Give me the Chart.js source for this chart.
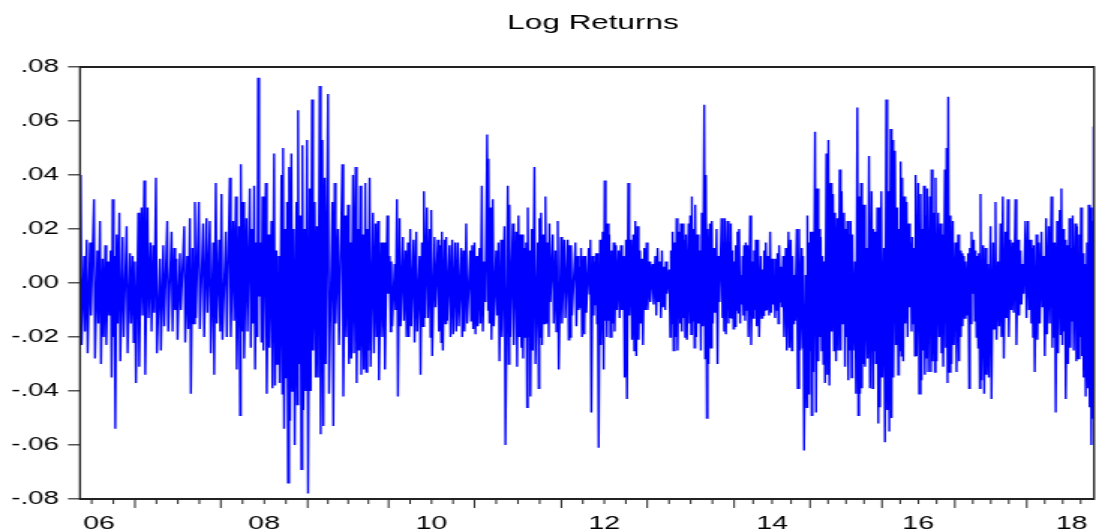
<!DOCTYPE html>
<html>
<head>
<meta charset="utf-8">
<title>Log Returns</title>
<script src="https://cdn.jsdelivr.net/npm/chart.js@4/dist/chart.umd.min.js"></script>
<style>
    html, body { margin: 0; padding: 0; background: #fff; overflow: hidden; }
    /* the original graph is a stretched export: draw narrow, widen to 1096px */
    canvas { display: block; transform: scaleX(1.4993); transform-origin: 0 0; }
</style>
</head>
<body>
<canvas id="returns-chart" width="731" height="531"></canvas>
<script>
// Trading-day number of each reading, with the highest and lowest return read around it
const obs = [
    2, 12, 20, 30, 42, 52, 60, 68, 76, 85,
    92, 98, 103, 110, 118, 128, 140, 150, 158, 165,
    175, 185, 193, 203, 212, 220, 228, 240, 250, 262,
    275, 283, 290, 300, 313, 322, 330, 338, 345, 357,
    370, 380, 390, 400, 408, 418, 425, 438, 450, 460,
    468, 478, 483, 490, 500, 510, 517, 523, 530, 535,
    542, 548, 558, 566, 575, 583, 590, 597, 605, 610,
    617, 622, 628, 635, 642, 650, 655, 662, 668, 675,
    682, 690, 697, 705, 712, 720, 728, 735, 745, 758,
    765, 775, 788, 797, 805, 812, 820, 828, 835, 842,
    850, 857, 863, 870, 880, 888, 895, 905, 913, 923,
    930, 935, 945, 952, 960, 970, 978, 985, 992, 1002,
    1010, 1020, 1027, 1033, 1042, 1050, 1055, 1065, 1075, 1082,
    1087, 1095, 1100, 1110, 1118, 1127, 1135, 1145, 1152, 1160,
    1172, 1178, 1185, 1192, 1200, 1207, 1215, 1223, 1227, 1233,
    1240, 1250, 1257, 1265, 1275, 1285, 1290, 1300, 1310, 1317,
    1323, 1328, 1334, 1340, 1345, 1350, 1357, 1365, 1375, 1380,
    1385, 1392, 1398, 1405, 1410, 1420, 1428, 1435, 1445, 1455,
    1465, 1470, 1475, 1488, 1495, 1500, 1505, 1512, 1518, 1528,
    1533, 1540, 1545, 1550, 1555, 1562, 1570, 1576, 1580, 1585,
    1590, 1597, 1603, 1610, 1618, 1625, 1633, 1640, 1647, 1655,
    1662, 1668, 1675, 1682, 1688, 1695, 1702, 1710, 1720, 1728,
    1735, 1742, 1748, 1755, 1760, 1770, 1775, 1780, 1786, 1792,
    1800, 1805, 1810, 1815, 1820, 1828, 1833, 1838, 1843, 1848,
    1855, 1862, 1868, 1875, 1880, 1885, 1892, 1898, 1905, 1912,
    1918, 1927, 1932, 1937, 1945, 1950, 1955, 1960, 1965, 1970,
    1975, 1980, 1985, 1990, 1995, 2000, 2005, 2013, 2020, 2025,
    2030, 2037, 2045, 2050, 2055, 2060, 2067, 2073, 2080, 2085,
    2090, 2095, 2100, 2105, 2112, 2120, 2128, 2135, 2140, 2145,
    2153, 2160, 2168, 2172, 2180, 2185, 2190, 2195, 2200, 2208,
    2215, 2220, 2225, 2230, 2235, 2242, 2248, 2255, 2262, 2268,
    2275, 2282, 2288, 2295, 2300, 2305, 2310, 2315, 2320, 2328,
    2335, 2340, 2346, 2350, 2355, 2363, 2370, 2378, 2383, 2388,
    2395, 2400, 2407, 2415, 2422, 2428, 2435, 2440, 2448, 2455,
    2460, 2465, 2470, 2476, 2483, 2490, 2495, 2500, 2505, 2510,
    2518, 2525, 2530, 2535, 2540, 2545, 2553, 2558, 2565, 2570,
    2578, 2585, 2590, 2598, 2603, 2608, 2615, 2622, 2630, 2638,
    2643, 2648, 2655, 2660, 2668, 2673, 2678, 2685, 2690, 2695,
    2700, 2705, 2713, 2720, 2727, 2735, 2743, 2750, 2758, 2765,
    2772, 2780, 2787, 2795, 2802, 2810, 2818, 2825, 2832, 2840,
    2848, 2855, 2860, 2865, 2873, 2880, 2888, 2895, 2902, 2910,
    2918, 2923, 2928, 2935, 2943, 2948, 2953, 2958, 2965, 2972,
    2978, 2982, 2990, 2995, 3002, 3007, 3012, 3018, 3025, 3030,
    3035, 3040, 3045
];

const highs = [
    .040, .010, .016, .015, .031, .012, .023, .009, .014, .008,
    .012, .031, .010, .018, .026, .017, .021, .011, .010, .008,
    .026, .028, .038, .028, .015, .014, .039, .009, .014, .023,
    .019, .013, .009, .011, .021, .010, .024, .013, .030, .030,
    .022, .024, .023, .015, .037, .016, .033, .019, .039, .023,
    .032, .021, .044, .030, .024, .035, .020, .036, .015, .076,
    .015, .032, .037, .018, .023, .048, .012, .010, .040, .050,
    .020, .030, .043, .048, .020, .030, .064, .025, .051, .020,
    .053, .035, .068, .030, .021, .073, .053, .039, .070, .030,
    .037, .020, .044, .025, .029, .015, .040, .043, .020, .036,
    .018, .037, .020, .039, .026, .022, .023, .015, .015, .025,
    .010, .008, .007, .031, .024, .017, .012, .015, .020, .016,
    .019, .010, .015, .034, .028, .020, .027, .017, .016, .014,
    .019, .016, .017, .014, .016, .015, .015, .013, .012, .022,
    .012, .014, .015, .010, .013, .036, .008, .055, .046, .028,
    .031, .012, .015, .016, .021, .036, .029, .022, .019, .025,
    .018, .018, .013, .015, .028, .012, .020, .043, .015, .024,
    .026, .018, .032, .015, .022, .018, .012, .023, .017, .016,
    .016, .014, .014, .015, .010, .006, .013, .010, .010, .013,
    .016, .010, .008, .011, .011, .016, .019, .038, .015, .022,
    .018, .012, .015, .014, .012, .014, .010, .016, .037, .016,
    .018, .023, .021, .012, .009, .013, .015, .008, .007, .010,
    .013, .008, .012, .006, .008, .005, .012, .019, .015, .024,
    .019, .022, .022, .016, .018, .022, .025, .032, .020, .029,
    .018, .012, .026, .066, .040, .020, .022, .023, .013, .020,
    .010, .024, .015, .024, .023, .015, .022, .012, .008, .014,
    .019, .020, .003, .010, .014, .015, .014, .025, .008, .012,
    .016, .016, .010, .005, .012, .015, .010, .019, .009, .003,
    .009, .011, .014, .006, .010, .013, .019, .016, .010, .003,
    .020, .020, .013, .010, .003, .025, .015, .019, .019, .056,
    .035, .020, .017, .010, .008, .048, .053, .037, .033, .026,
    .024, .042, .034, .026, .020, .023, .018, .023, .018, .008,
    .065, .032, .037, .020, .029, .013, .047, .034, .020, .019,
    .028, .028, .034, .013, .068, .034, .057, .053, .049, .028,
    .020, .045, .039, .032, .030, .022, .015, .017, .013, .040,
    .037, .033, .020, .036, .025, .035, .032, .042, .026, .039,
    .026, .022, .018, .042, .050, .069, .025, .023, .015, .018,
    .012, .011, .010, .008, .011, .013, .019, .016, .012, .010,
    .011, .033, .014, .013, .007, .021, .015, .030, .008, .022,
    .032, .019, .031, .016, .015, .031, .016, .012, .007, .023,
    .023, .016, .013, .014, .018, .015, .019, .010, .024, .021,
    .032, .015, .015, .023, .027, .035, .020, .016, .014, .024,
    .013, .025, .022, .021, .018, .028, .011, .007, .015, .029,
    .028, .023, .058
];

const lows = [
    -.023, -.018, -.026, -.012, -.028, -.015, -.030, -.020, -.023, -.012,
    -.035, -.020, -.054, -.015, -.029, -.020, -.026, -.015, -.022, -.037,
    -.031, -.012, -.034, -.013, -.018, -.011, -.026, -.025, -.016, -.018,
    -.018, -.010, -.021, -.010, -.022, -.017, -.041, -.015, -.013, -.017,
    -.020, -.011, -.026, -.034, -.015, -.018, -.021, -.020, -.020, -.014,
    -.032, -.049, -.018, -.028, -.018, -.024, -.015, -.032, -.020, -.005,
    -.022, -.025, -.041, -.024, -.039, -.038, -.030, -.037, -.041, -.054,
    -.035, -.074, -.051, -.040, -.060, -.045, -.030, -.069, -.047, -.040,
    -.078, -.040, -.025, -.035, -.035, -.056, -.053, -.030, -.041, -.053,
    -.015, -.023, -.042, -.020, -.030, -.028, -.026, -.037, -.025, -.034,
    -.032, -.033, -.025, -.031, -.026, -.020, -.036, -.020, -.032, -.004,
    -.018, -.016, -.010, -.042, -.016, -.014, -.020, -.020, -.016, -.022,
    -.018, -.034, -.016, -.013, -.013, -.020, -.027, -.009, -.018, -.022,
    -.025, -.015, -.014, -.020, -.019, -.018, -.016, -.020, -.018, -.015,
    -.014, -.017, -.019, -.016, -.015, -.018, -.007, -.010, -.015, -.021,
    -.016, -.012, -.029, -.020, -.060, -.030, -.020, -.023, -.031, -.020,
    -.024, -.028, -.020, -.046, -.020, -.042, -.025, -.030, -.039, -.020,
    -.023, -.015, -.015, -.020, -.007, -.015, -.018, -.032, -.015, -.013,
    -.021, -.020, -.012, -.016, -.010, -.009, -.020, -.019, -.011, -.004,
    -.048, -.012, -.008, -.015, -.061, -.023, -.032, -.014, -.020, -.014,
    -.020, -.015, -.018, -.010, -.013, -.010, -.035, -.043, -.012, -.021,
    -.025, -.027, -.021, -.015, -.023, -.010, -.010, -.007, -.008, -.012,
    -.007, -.013, -.009, -.010, -.004, -.020, -.015, -.025, -.020, -.025,
    -.015, -.018, -.013, -.020, -.021, -.015, -.019, -.014, -.024, -.020,
    -.015, -.025, -.016, -.028, -.050, -.030, -.024, -.015, -.011, -.030,
    -.007, -.013, -.018, -.019, -.015, -.013, -.013, -.017, -.016, -.010,
    -.011, -.015, -.008, -.012, -.014, -.010, -.020, -.023, -.013, -.010,
    -.016, -.020, -.013, -.012, -.010, -.010, -.012, -.011, -.008, -.013,
    -.010, -.015, -.007, -.009, -.020, -.025, -.024, -.025, -.015, -.014,
    -.039, -.025, -.024, -.062, -.046, -.041, -.025, -.049, -.033, -.048,
    -.029, -.020, -.025, -.030, -.037, -.034, -.038, -.018, -.025, -.029,
    -.025, -.025, -.015, -.031, -.020, -.036, -.025, -.035, -.025, -.041,
    -.049, -.041, -.039, -.030, -.031, -.028, -.039, -.039, -.025, -.030,
    -.052, -.046, -.035, -.059, -.047, -.055, -.050, -.035, -.023, -.034,
    -.025, -.027, -.029, -.015, -.020, -.009, -.018, -.015, -.027, -.027,
    -.041, -.036, -.025, -.034, -.028, -.033, -.033, -.029, -.033, -.029,
    -.020, -.026, -.031, -.024, -.037, -.033, -.030, -.023, -.033, -.029,
    -.020, -.016, -.013, -.012, -.039, -.015, -.004, -.014, -.020, -.024,
    -.039, -.036, -.041, -.034, -.035, -.043, -.017, -.021, -.016, -.020,
    -.028, -.013, -.020, -.010, -.011, -.023, -.012, -.008, -.004, -.013,
    -.010, -.015, -.020, -.033, -.021, -.015, -.009, -.027, -.019, -.015,
    -.024, -.020, -.048, -.026, -.019, -.023, -.018, -.043, -.030, -.024,
    -.014, -.025, -.029, -.028, -.020, -.027, -.035, -.042, -.039, -.046,
    -.060, -.050, -.042
];

// First trading day of each year, 2006 (before the sample) to 2019 (after it)
const yearStarts = [-95, 165, 423, 684, 927, 1185, 1446, 1704, 1965, 2193, 2409, 2628, 2844, 3060];
const yearLabels = ['06', '08', '10', '12', '14', '16', '18'];
const yearLabelObs = [57, 553, 1056, 1575, 2079, 2518, 2979];
const lastObs = 3046;

if (obs.length !== highs.length || obs.length !== lows.length) {
    throw new Error(`length mismatch: ${obs.length} ${highs.length} ${lows.length}`);
}

// high then low for every reading, so the line swings like the daily series
const points = [];
obs.forEach((d, i) => {
    points.push({ x: d, y: highs[i] });
    points.push({ x: d + 3, y: lows[i] });
});

const fontFamily = "'Liberation Sans', Arial, sans-serif";

// box round the plot, quarter and year tick marks, and the title
const framePlugin = {
    id: 'frame',
    afterDraw(chart) {
        const { ctx, chartArea: a, scales: { x } } = chart;
        ctx.save();
        ctx.strokeStyle = '#222';

        // top and bottom edges
        ctx.lineWidth = 2;
        ctx.beginPath();
        ctx.moveTo(a.left, a.top);
        ctx.lineTo(a.right, a.top);
        ctx.moveTo(a.left, a.bottom);
        ctx.lineTo(a.right, a.bottom);
        ctx.stroke();

        // left and right edges (widened by the stretch)
        ctx.lineWidth = 1.35;
        ctx.beginPath();
        ctx.moveTo(a.left, a.top - 1);
        ctx.lineTo(a.left, a.bottom + 1);
        ctx.moveTo(a.right, a.top - 1);
        ctx.lineTo(a.right, a.bottom + 1);
        ctx.stroke();

        ctx.lineWidth = 1;
        ctx.beginPath();
        for (let i = 0; i < yearStarts.length - 1; i++) {
            const start = yearStarts[i];
            const step = (yearStarts[i + 1] - start) / 4;
            for (let q = 0; q < 4; q++) {
                const v = start + q * step;
                if (v <= 0 || v >= lastObs) continue;
                const px = x.getPixelForValue(v);
                const len = q === 0 ? 9 : 5;
                ctx.moveTo(px, a.bottom);
                ctx.lineTo(px, a.bottom + len);
            }
        }
        ctx.stroke();

        ctx.fillStyle = '#000';
        ctx.font = `21px ${fontFamily}`;
        ctx.textAlign = 'center';
        ctx.textBaseline = 'alphabetic';
        ctx.fillText('Log Returns', (a.left + a.right) / 2 + 4, 29);
        ctx.restore();
    }
};

new Chart(document.getElementById('returns-chart'), {
    type: 'line',
    data: {
        datasets: [{
            label: 'Log Returns',
            data: points,
            borderColor: '#0000ff',
            borderWidth: 1.4,
            pointRadius: 0,
            tension: 0,
            fill: false
        }]
    },
    options: {
        responsive: false,
        animation: false,
        events: [],
        layout: { padding: { top: 67, right: 1.33, left: 0, bottom: 0 } },
        plugins: {
            legend: { display: false },
            title: { display: false },
            tooltip: { enabled: false }
        },
        scales: {
            x: {
                type: 'linear',
                min: 0,
                max: lastObs,
                afterFit: scale => {
                    scale.height = 32;
                    // keep the edge labels from shrinking the plot
                    scale.paddingLeft = 0;
                    scale.paddingRight = 0;
                },
                afterBuildTicks: scale => {
                    scale.ticks = yearLabelObs.map(v => ({ value: v }));
                },
                grid: { display: false, drawTicks: false },
                border: { display: false },
                ticks: {
                    autoSkip: false,
                    maxRotation: 0,
                    padding: 13,
                    color: '#000',
                    font: { family: fontFamily, size: 19 },
                    callback: (v, i) => yearLabels[i]
                }
            },
            y: {
                min: -0.08,
                max: 0.08,
                afterFit: scale => { scale.width = 53.36; },
                grid: {
                    drawOnChartArea: false,
                    drawTicks: true,
                    tickLength: 8,
                    tickColor: '#555',
                    lineWidth: 1.5
                },
                border: { display: false },
                ticks: {
                    stepSize: 0.02,
                    padding: 6,
                    color: '#000',
                    font: { family: fontFamily, size: 18.5 },
                    callback: v => {
                        if (Math.abs(v) < 1e-9) return '.00';
                        return v.toFixed(2).replace('0.', '.');
                    }
                }
            }
        }
    },
    plugins: [framePlugin]
});
</script>
</body>
</html>
